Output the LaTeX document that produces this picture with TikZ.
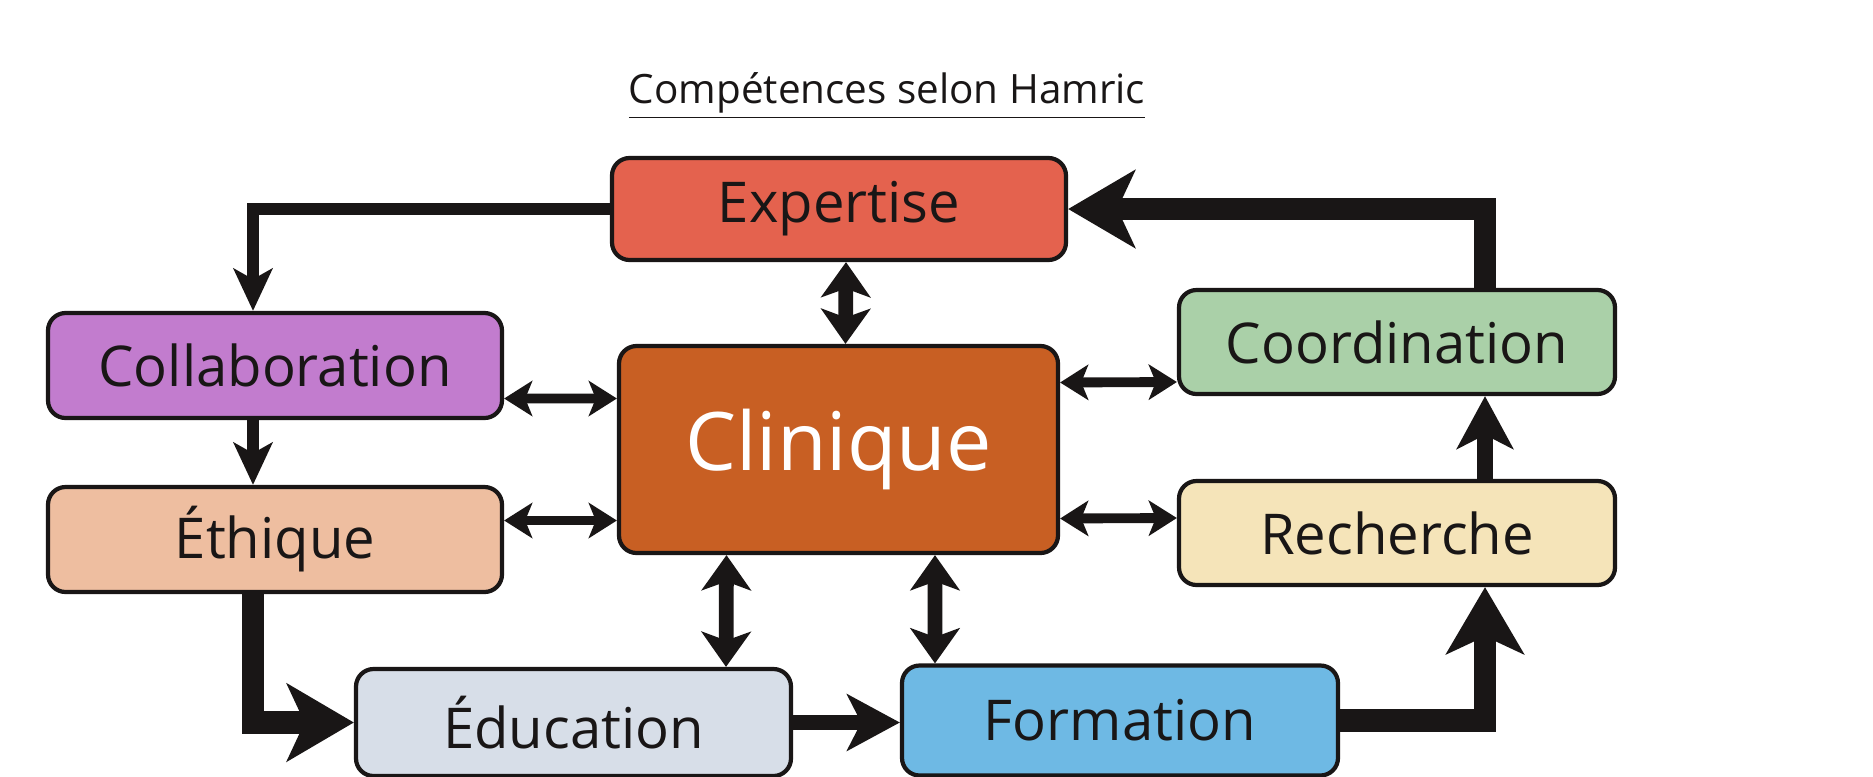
\documentclass[tikz,border=0pt]{standalone}
\usepackage{fontspec}
\setmainfont{Open Sans}
\usetikzlibrary{arrows.meta}

\definecolor{expcol}{RGB}{228,98,78}
\definecolor{colcol}{RGB}{194,124,206}
\definecolor{ethcol}{RGB}{238,190,160}
\definecolor{clicol}{RGB}{200,95,35}
\definecolor{coocol}{RGB}{170,208,168}
\definecolor{reccol}{RGB}{245,228,185}
\definecolor{educol}{RGB}{215,222,232}
\definecolor{forcol}{RGB}{110,185,228}
\definecolor{ink}{RGB}{25,22,22}

\begin{document}
\begin{tikzpicture}[line join=miter,
    box/.style={draw=ink, line width=1.2pt, rounded corners=5pt, inner sep=0pt,
        minimum width=4.54cm, minimum height=1.05cm, text=ink,
        font=\fontsize{16}{19}\selectfont},
    flowa/.style={draw=ink, line width=3.4pt, -{Stealth[length=12pt,width=11pt,inset=3pt]}},
    flowb/.style={draw=ink, line width=6.5pt, -{Stealth[length=19pt,width=22pt,inset=5pt]}},
    flowc/.style={draw=ink, line width=4.5pt, -{Stealth[length=15pt,width=16pt,inset=4pt]}},
    dblh/.style={draw=ink, line width=2.8pt, {Stealth[length=8pt,width=10pt,inset=2pt]}-{Stealth[length=8pt,width=10pt,inset=2pt]}},
    dblv/.style={draw=ink, line width=4.2pt, {Stealth[length=10pt,width=14pt,inset=2.5pt]}-{Stealth[length=10pt,width=14pt,inset=2.5pt]}}]
    \useasboundingbox[fill=white] (0,0) rectangle (18.73,-7.76);

    \node[text=ink, font=\fontsize{11.5}{14}\selectfont] (title) at (8.87,-0.96) {\underline{Compétences selon Hamric}};

    \node[box, fill=expcol, minimum height=1.02cm] (expertise) at (8.39,-2.09) {Expertise};
    \node[box, fill=colcol] (collab) at (2.75,-3.655) {Collaboration};
    \node[box, fill=ethcol] (ethique) at (2.75,-5.395) {Éthique};
    \node[box, fill=clicol, minimum width=4.39cm, minimum height=2.07cm, text=white,
        font=\fontsize{23}{27}\selectfont] (clinique) at (8.385,-4.495) {Clinique};
    \node[box, fill=coocol, minimum width=4.36cm, minimum height=1.04cm] (coord) at (13.97,-3.42) {Coordination};
    \node[box, fill=reccol, minimum width=4.36cm, minimum height=1.04cm] (recherche) at (13.97,-5.33) {Recherche};
    \node[box, fill=educol, minimum width=4.35cm, minimum height=1.07cm] (education) at (5.735,-7.225) {Éducation};
    \node[box, fill=forcol, minimum width=4.36cm, minimum height=1.1cm] (formation) at (11.2,-7.205) {Formation};

    \coordinate (lcol) at (2.53,0);
    \coordinate (rcol) at (14.85,0);

    \draw[flowa] (expertise.west) -| (lcol |- collab.north);
    \draw[flowa] (lcol |- collab.south) -- (lcol |- ethique.north);
    \draw[flowb] (lcol |- ethique.south) |- (education.west);
    \draw[flowc] (education.east) -- (education.east -| formation.west);
    \draw[flowb] (formation.east) -| (rcol |- recherche.south);
    \draw[flowc] (rcol |- recherche.north) -- (rcol |- coord.south);
    \draw[flowb] (rcol |- coord.north) |- (expertise.east);

    \draw[dblv] ([xshift=.07cm]expertise.south) -- ([xshift=.07cm]clinique.north);
    \draw[dblh] ([yshift=-.33cm]collab.east) -- ([yshift=.51cm]clinique.west);
    \draw[dblh] ([yshift=.19cm]ethique.east) -- ([yshift=-.71cm]clinique.west);
    \draw[dblh] ([yshift=.67cm]clinique.east) -- ([yshift=-.4cm]coord.west);
    \draw[dblh] ([yshift=-.69cm]clinique.east) -- ([yshift=.15cm]recherche.west);
    \draw[dblv] ([xshift=-1.12cm]clinique.south) -- ([xshift=1.525cm]education.north);
    \draw[dblv] ([xshift=.965cm]clinique.south) -- ([xshift=-1.85cm]formation.north);
\end{tikzpicture}
\end{document}
